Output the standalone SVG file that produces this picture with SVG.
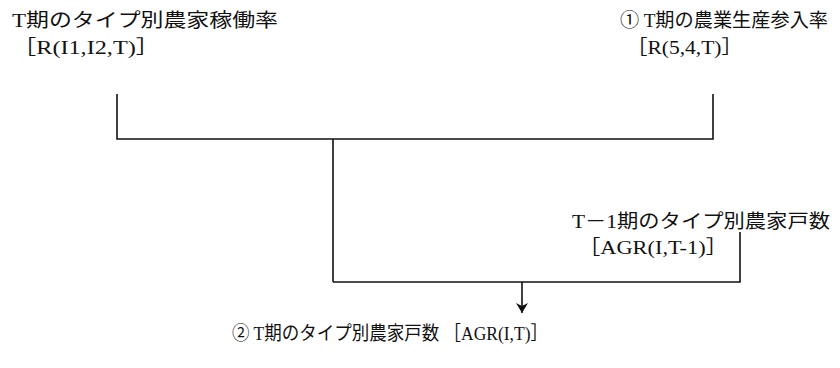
<svg xmlns="http://www.w3.org/2000/svg" width="840" height="368" viewBox="0 0 840 368">
<style>
text{font-family:"Liberation Serif","Noto Sans CJK JP",serif;font-size:19px;fill:#111}
.ln{stroke:#111;stroke-width:1.6;fill:none}
</style>
<defs>
<marker id="ah" viewBox="0 0 10 14" refX="10" refY="7" markerWidth="10" markerHeight="14" markerUnits="userSpaceOnUse" orient="auto">
<path d="M0,1 L10,7 L0,13 L3,7 Z" fill="#111"/>
</marker>
</defs>
<rect width="840" height="368" fill="#fff"/>
<g id="node-rate">
<text x="12" y="27" textLength="266" lengthAdjust="spacingAndGlyphs">T期のタイプ別農家稼働率</text>
<text x="12" y="54" textLength="148" lengthAdjust="spacingAndGlyphs">［R(I1,I2,T)］</text>
</g>
<g id="node-entry">
<text x="620" y="27" textLength="208" lengthAdjust="spacingAndGlyphs">① T期の農業生産参入率</text>
<text x="626" y="54" textLength="117" lengthAdjust="spacingAndGlyphs">［R(5,4,T)］</text>
</g>
<g id="node-prev">
<text x="572" y="228" textLength="258" lengthAdjust="spacingAndGlyphs">T－1期のタイプ別農家戸数</text>
<text x="578" y="254" textLength="150" lengthAdjust="spacingAndGlyphs">［AGR(I,T-1)］</text>
</g>
<g id="node-result">
<text x="232" y="340" textLength="316" lengthAdjust="spacingAndGlyphs">② T期のタイプ別農家戸数 ［AGR(I,T)］</text>
</g>
<g id="connectors">
<polyline class="ln" points="117,94 117,139 713,139 713,94"/>
<line class="ln" x1="333" y1="139" x2="333" y2="282"/>
<polyline class="ln" points="333,282 740,282 740,232"/>
<line class="ln" x1="522" y1="282" x2="522" y2="313" marker-end="url(#ah)"/>
</g>
</svg>
